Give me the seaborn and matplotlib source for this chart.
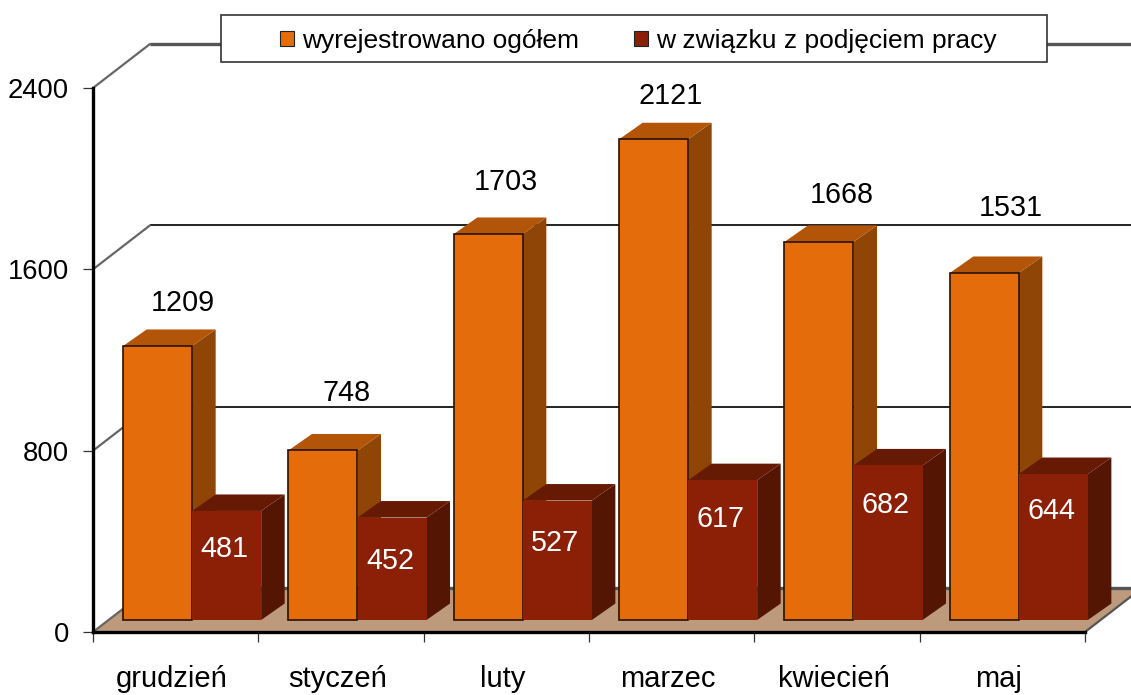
import matplotlib
matplotlib.use('Agg')
import matplotlib.pyplot as plt
import pandas as pd
import seaborn as sns
from matplotlib.patches import Patch, Polygon, Rectangle
from matplotlib.transforms import ScaledTranslation

months = ['grudzień', 'styczeń', 'luty', 'marzec', 'kwiecień', 'maj']
total = [1209, 748, 1703, 2121, 1668, 1531]
employed = [481, 452, 527, 617, 682, 644]
yticks = [0, 800, 1600, 2400]
series_names = ['wyrejestrowano ogółem', 'w związku z podjęciem pracy']

W, H = 1131, 695
LEFT, RIGHT, BOTTOM, TOP = 93, 1085, 632, 88

sns.set_theme(style='white')
plt.rcParams['font.family'] = ['Liberation Sans', 'DejaVu Sans']

df = pd.DataFrame({
    'month': months * 2,
    'value': total + employed,
    'series': [series_names[0]] * 6 + [series_names[1]] * 6,
})

fig = plt.figure(figsize=(W / 100, H / 100), dpi=100)
ax = fig.add_axes([LEFT / W, 1 - BOTTOM / H, (RIGHT - LEFT) / W, (BOTTOM - TOP) / H])

sns.barplot(data=df, x='month', y='value', hue='series', hue_order=series_names,
            palette=['#E56C0A', '#8B2006'], width=0.835, gap=0, dodge=True,
            legend=False, saturation=1, errorbar=None, ax=ax)
bars = [b for c in ax.containers for b in c]
ax.set_xlim(-0.5, 5.5)
ax.set_ylim(0, 2400)
ax.set_xlabel('')
ax.set_ylabel('')

# one pixel in data units
px_x = 6 / (RIGHT - LEFT)
px_y = 2400 / (BOTTOM - TOP)

# floor and back wall
depth_x, depth_y = 57 * px_x, 44 * px_y
ax.add_patch(Polygon([(-0.5, 0), (5.5, 0), (5.5 + depth_x, depth_y), (-0.5 + depth_x, depth_y)],
                     facecolor='#BD9A7C', edgecolor='none', clip_on=False, zorder=0.5))
for v in yticks:
    color = '#111111' if v in (800, 1600) else '#555555'
    lw = 1.3 if v in (800, 1600) else 2.4
    ax.plot([-0.5 + depth_x, 5.5 + depth_x], [v + depth_y, v + depth_y],
            color=color, lw=lw, clip_on=False, zorder=0.8, solid_capstyle='butt')
    ax.plot([-0.5, -0.5 + depth_x], [v, v + depth_y], color='#666666', lw=1.6,
            clip_on=False, zorder=0.8)
ax.plot([5.5, 5.5 + depth_x], [0, depth_y], color='#555555', lw=1.6, clip_on=False, zorder=0.8)

# bars sit a little behind the front edge of the floor
shift = ax.transData + ScaledTranslation(16.5 / 100, 12 / 100, fig.dpi_scale_trans)
dx, dy = 23.5 * px_x, 16.5 * px_y
faces = {0: ('#B35508', '#8F4505', '#2A1200'), 1: ('#661A03', '#551503', 'none')}

for i, bar in enumerate(bars):
    s = i // 6
    g = i % 6
    x0, w, h = bar.get_x(), bar.get_width(), bar.get_height()
    z = 2 + g * 2 + s * 0.5
    top_c, side_c, edge_c = faces[s]
    bar.set_transform(shift)
    bar.set_clip_on(False)
    bar.set_zorder(z + 0.2)
    bar.set_edgecolor(edge_c)
    bar.set_linewidth(1.2 if s == 0 else 0)
    ax.add_patch(Polygon([(x0 + w, 0), (x0 + w + dx, dy), (x0 + w + dx, h + dy), (x0 + w, h)],
                         facecolor=side_c, edgecolor='none', transform=shift,
                         clip_on=False, zorder=z))
    ax.add_patch(Polygon([(x0, h), (x0 + w, h), (x0 + w + dx, h + dy), (x0 + dx, h + dy)],
                         facecolor=top_c, edgecolor='none', transform=shift,
                         clip_on=False, zorder=z))

# labels were hand placed in the original, offsets in pixels from the bar top
total_off = [(25, 43), (24, 57), (17, 52), (17, 43), (23, 47), (26, 65)]
empl_off = [(-2, -38), (-2, -43), (-2, -42), (-2, -39), (-2, -40), (-2, -37)]
for i, bar in enumerate(bars):
    off = total_off[i] if i < 6 else empl_off[i - 6]
    ax.annotate(str(int(bar.get_height())),
                xy=(bar.get_x() + bar.get_width() / 2, bar.get_height()), xycoords=shift,
                xytext=off, textcoords='offset pixels', ha='center', va='center',
                fontsize=20.7, color='black' if i < 6 else 'white', zorder=40,
                annotation_clip=False)

# axes
for side in ['top', 'right']:
    ax.spines[side].set_visible(False)
for side in ['left', 'bottom']:
    ax.spines[side].set_linewidth(2.4)
    ax.spines[side].set_color('black')
    ax.spines[side].set_zorder(30)
ax.set_yticks(yticks)
ax.tick_params(axis='y', left=True, length=7.2, width=0.9, pad=10, labelsize=19.7, color='#333333')
ax.set_xticks(range(6))
ax.set_xticklabels(months)
ax.set_xticks([x - 0.5 for x in range(7)], minor=True)
ax.tick_params(axis='x', which='major', bottom=False, length=0, pad=23.7, labelsize=21)
ax.tick_params(axis='x', which='minor', bottom=True, length=7.2, width=0.9, color='#333333')
label_shift = ScaledTranslation(-3.5 / 100, 0, fig.dpi_scale_trans)
for lab in ax.get_xticklabels():
    lab.set_transform(lab.get_transform() + label_shift)
for lab in ax.get_xticklabels() + ax.get_yticklabels():
    lab.set_color('black')

# legend box
fig.add_artist(Rectangle((221 / W, 1 - 62 / H), 826 / W, 47 / H, transform=fig.transFigure,
                         facecolor='white', edgecolor='#333333', lw=1.2, zorder=5))
handles = [Patch(facecolor='#E56C0A', edgecolor='#222222', lw=0.8),
           Patch(facecolor='#8B2006', edgecolor='#222222', lw=0.8)]
leg = fig.legend(handles, series_names, ncols=2, frameon=False, fontsize=19,
                 loc='center', bbox_to_anchor=(638.5 / W, 1 - 41 / H),
                 handlelength=0.52, handleheight=0.52, handletextpad=0.3, columnspacing=2.1,
                 labelcolor='black')
leg.set_zorder(6)

fig.savefig('out.png', dpi=100)
